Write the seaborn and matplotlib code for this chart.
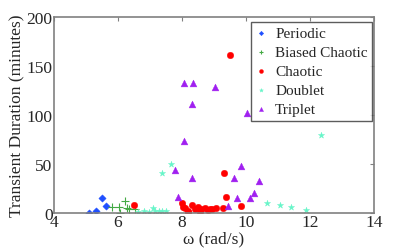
import pandas as pd
import matplotlib
matplotlib.use('Agg')
import matplotlib.pyplot as plt
import seaborn as sns

# values (omega in rad/s, duration in minutes)
periodic_w = [5.08, 5.31, 5.50, 5.63]
periodic_t = [0.5, 2, 15, 7]

biased_w = [5.82, 6.04, 6.06, 6.22, 6.27, 6.35, 6.53]
biased_t = [6.5, 5.8, 0.3, 12, 5, 4, 4]

chaotic_w = [6.51, 7.99, 8.04, 8.10, 8.20, 8.20, 8.30, 8.40, 8.50, 8.56, 8.61,
             8.72, 8.80, 8.88, 8.95, 9.08, 9.27, 9.32, 9.38, 9.50, 9.84]
chaotic_t = [8.5, 10, 6, 5, 2.5, 0.7, 8, 4, 6, 1, 4,
             4.8, 3, 4, 4, 4.8, 5, 40.5, 16, 161.5, 7.5]

doublet_w = [6.63, 6.81, 6.97, 7.10, 7.16, 7.28, 7.39, 7.50, 7.39, 7.66,
             10.65, 11.06, 11.40, 11.87, 12.34]
doublet_t = [1.5, 2.5, 1.3, 5, 2, 2.3, 2.3, 2.3, 40.5, 49.7,
             10, 8.5, 5.8, 2.7, 79.6]

triplet_w = [7.77, 7.88, 8.06, 8.06, 8.30, 8.30, 8.34, 9.04, 9.45, 9.62,
             9.73, 9.84, 10.02, 10.13, 10.25, 10.42]
triplet_t = [44, 16, 133, 73, 111.5, 36, 133, 128.6, 7, 36,
             15.5, 48, 101.7, 15, 20, 33]

groups = [
    ('Periodic', periodic_w, periodic_t, 'D', '#1f4fff', 14),
    ('Biased Chaotic', biased_w, biased_t, '+', '#44aa44', 30),
    ('Chaotic', chaotic_w, chaotic_t, 'o', '#ff0000', 22),
    ('Doublet', doublet_w, doublet_t, '*', '#66f5c8', 22),
    ('Triplet', triplet_w, triplet_t, '^', '#a020f0', 24),
]

frames = []
for name, w, t, *_ in groups:
    frames.append(pd.DataFrame({'omega': w, 'duration': t, 'regime': name}))
df = pd.concat(frames, ignore_index=True)

sns.set_style('white')
plt.rcParams['font.family'] = ['Liberation Serif', 'DejaVu Serif']

fig = plt.figure(figsize=(4.15, 2.53), dpi=100)
ax = fig.add_axes([0.130, 0.154, 0.771, 0.775])

for name, w, t, mk, col, sz in groups:
    sub = df[df['regime'] == name]
    if mk == '+':
        sns.scatterplot(data=sub, x='omega', y='duration', marker=mk, color=col,
                        s=sz, linewidth=0.8, label=name, ax=ax)
    else:
        sns.scatterplot(data=sub, x='omega', y='duration', marker=mk, color=col,
                        s=sz, edgecolor=col, linewidth=0.3, label=name, ax=ax)

ax.set_xlim(4, 14)
ax.set_ylim(0, 200)
ax.set_xticks([4, 6, 8, 10, 12, 14])
ax.set_yticks([0, 50, 100, 150, 200])
ax.set_xlabel('ω (rad/s)', fontsize=12.5, labelpad=0)
ax.set_ylabel('Transient Duration (minutes)', fontsize=12.5, labelpad=1)

for sp in ax.spines.values():
    sp.set_color('#808080')
    sp.set_linewidth(1.2)
ax.tick_params(direction='in', length=3, color='#808080', labelsize=12.5,
               top=True, right=True, pad=1)

leg = ax.legend(loc='upper right', fontsize=11, frameon=True, fancybox=False,
                edgecolor='#333333', markerscale=0.6, handletextpad=0.5,
                borderpad=0.3, labelspacing=0.35, handlelength=0.8,
                borderaxespad=0, bbox_to_anchor=(0.995, 0.975))
leg.get_frame().set_linewidth(1.0)

fig.savefig('out.png', dpi=100)
